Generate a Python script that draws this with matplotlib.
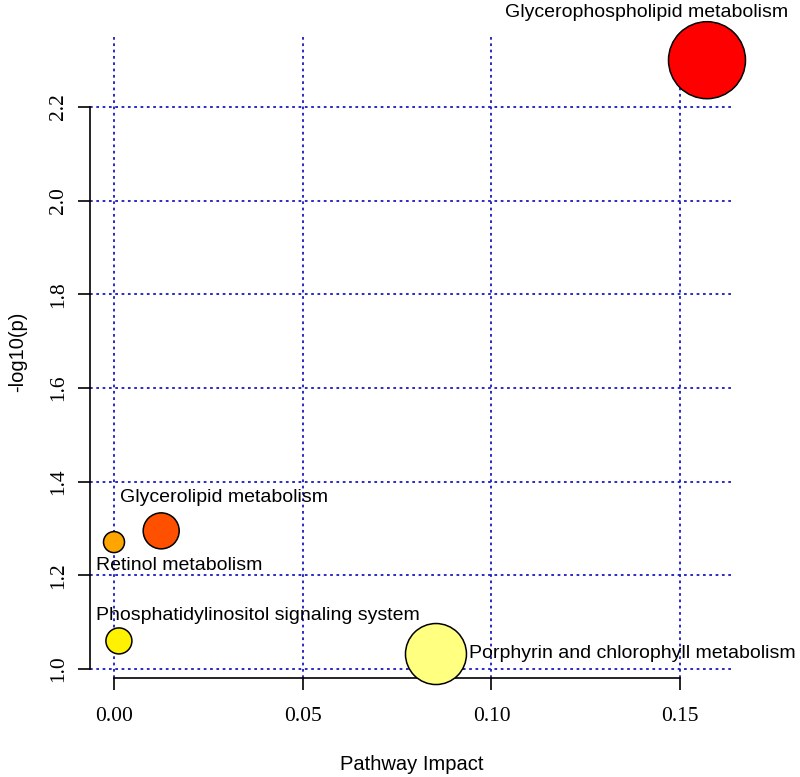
import matplotlib.pyplot as plt

# Pathway analysis results
pathways = ['Glycerophospholipid metabolism',
            'Porphyrin and chlorophyll metabolism',
            'Glycerolipid metabolism',
            'Retinol metabolism',
            'Phosphatidylinositol signaling system']
impact = [0.1571, 0.0853, 0.0125, 0.0000, 0.0013]
neg_log_p = [2.300, 1.032, 1.295, 1.271, 1.060]
bubble_diam = [77, 61, 36, 21, 26]   # circle diameter, pixels
bubble_color = ['#FF0000', '#FFFF80', '#FF5000', '#FFA500', '#FFF200']

x_ticks = [0.00, 0.05, 0.10, 0.15]
x_ticklabels = ['0.00', '0.05', '0.10', '0.15']
y_ticks = [1.0, 1.2, 1.4, 1.6, 1.8, 2.0, 2.2]
y_ticklabels = ['1.0', '1.2', '1.4', '1.6', '1.8', '2.0', '2.2']

# label offsets from the circle centre (pixels), left aligned
label_offset = [(-202, 48), (33, 1), (-41, 33), (-18, -23), (-23, 25)]

fig = plt.figure(figsize=(8, 7.77), dpi=100)
ax = fig.add_axes([0.1125, 0.1274, 0.8038, 0.8275])

ax.set_xlim(-0.00636, 0.1640)
ax.set_ylim(0.9808, 2.3537)

ax.grid(True, color='#1A1ABF', linestyle=(0, (1.5, 2.0)), linewidth=1.3)
ax.set_axisbelow(True)

sizes = [(d * 0.72) ** 2 for d in bubble_diam]
ax.scatter(impact, neg_log_p, s=sizes, c=bubble_color, edgecolors='black',
           linewidths=1.1, zorder=4, clip_on=False)

for name, x, y, off in zip(pathways, impact, neg_log_p, label_offset):
    ax.annotate(name, (x, y), xytext=off, textcoords='offset pixels',
                ha='left', va='center', fontsize=14,
                family='Liberation Sans', zorder=5, annotation_clip=False)

for side in ['top', 'right']:
    ax.spines[side].set_visible(False)
ax.spines['left'].set_bounds(1.0, 2.2)
ax.spines['bottom'].set_bounds(0.0, 0.15)
for side in ['left', 'bottom']:
    ax.spines[side].set_linewidth(1.2)
    ax.spines[side].set_zorder(3)

ax.set_xticks(x_ticks)
ax.set_xticklabels(x_ticklabels, family='Liberation Serif', fontsize=15.5)
ax.set_yticks(y_ticks)
ax.set_yticklabels(y_ticklabels, family='Liberation Serif', fontsize=15.5,
                   rotation=90, va='center')
ax.tick_params(axis='x', length=8.6, width=1.2, pad=12)
ax.tick_params(axis='y', length=8.6, width=1.2, pad=7)

fig.text(412 / 800, 1 - 765 / 777, 'Pathway Impact', ha='center', va='center',
         fontsize=14.5, family='Liberation Sans')
fig.text(18 / 800, 1 - 352 / 777, '-log10(p)', ha='center', va='center',
         rotation=90, fontsize=14.5, family='Liberation Sans')

fig.savefig('out.png', dpi=100)
